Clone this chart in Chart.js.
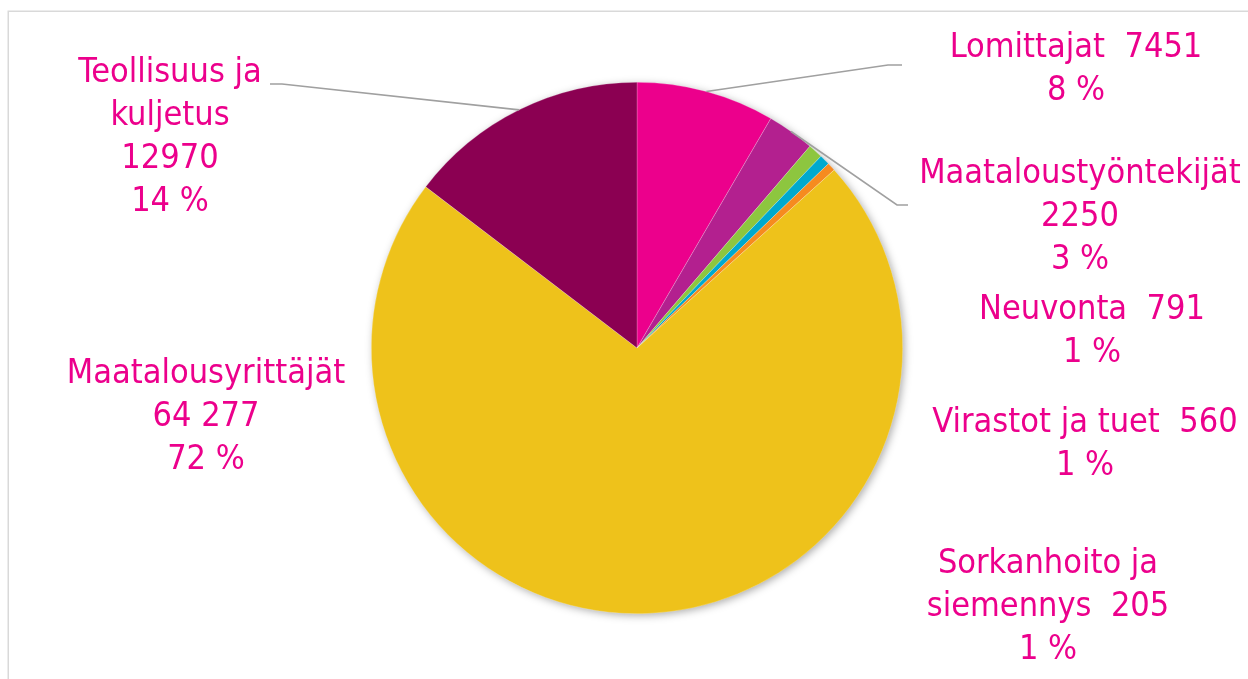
<!DOCTYPE html>
<html>
<head>
<meta charset="utf-8">
<script src="https://cdn.jsdelivr.net/npm/chart.js@4/dist/chart.umd.min.js"></script>
<style>
  html, body { margin: 0; padding: 0; background: #ffffff; }
  #wrap { width: 1248px; height: 679px; position: relative; }
</style>
</head>
<body>
<div id="wrap"><canvas id="c" width="1248" height="679"></canvas></div>
<script>
// ---- data ----
const categories = ["Lomittajat", "Maataloustyöntekijät", "Neuvonta", "Virastot ja tuet", "Sorkanhoito ja siemennys", "Maatalousyrittäjät", "Teollisuus ja kuljetus"];
// slice sizes as drawn in the picture
const values = [7451, 2550, 791, 560, 450, 63900, 12970];
// value and percent texts as printed in the labels
const valueLabels = ["7451", "2250", "791", "560", "205", "64 277", "12970"];
const percentLabels = ["8 %", "3 %", "1 %", "1 %", "1 %", "72 %", "14 %"];
const colors = ["#EC008C", "#B3208F", "#8DC63F", "#00A9CE", "#F68B1F", "#EEC21B", "#8B0052"];

// ---- label layout (text lines per slice, centre x, first baseline y, optional leader elbow) ----
const labelLayout = [
  { lines: ["Lomittajat  " + valueLabels[0], percentLabels[0]], x: 1076, y: 57, elbow: [888, 65], end: [902, 65] },
  { lines: ["Maataloustyöntekijät", valueLabels[1], percentLabels[1]], x: 1080, y: 183, elbow: [897, 205], end: [908, 205] },
  { lines: ["Neuvonta  " + valueLabels[2], percentLabels[2]], x: 1092, y: 319 },
  { lines: ["Virastot ja tuet  " + valueLabels[3], percentLabels[3]], x: 1085, y: 432 },
  { lines: ["Sorkanhoito ja", "siemennys  " + valueLabels[4], percentLabels[4]], x: 1048, y: 573 },
  { lines: ["Maatalousyrittäjät", valueLabels[5], percentLabels[5]], x: 206, y: 383 },
  { lines: ["Teollisuus ja", "kuljetus", valueLabels[6], percentLabels[6]], x: 170, y: 82, elbow: [282, 84], end: [270, 84] }
];

const FONT = '34px "DejaVu Sans Condensed", "DejaVu Sans", sans-serif';
const LINE_H = 43;

const framePlugin = {
  id: 'frame',
  beforeDraw(chart) {
    const ctx = chart.ctx;
    ctx.save();
    ctx.fillStyle = '#ffffff';
    ctx.fillRect(0, 0, chart.width, chart.height);
    ctx.strokeStyle = '#D9D9D9';
    ctx.lineWidth = 1.5;
    ctx.strokeRect(8.25, 11.25, 1400, 1000);
    ctx.restore();
  }
};

const shadowPlugin = {
  id: 'pieShadow',
  beforeDatasetsDraw(chart) {
    const arc = chart.getDatasetMeta(0).data[0];
    if (!arc) return;
    const p = arc.getProps(['x', 'y', 'outerRadius'], true);
    const ctx = chart.ctx;
    ctx.save();
    ctx.shadowColor = 'rgba(0,0,0,0.35)';
    ctx.shadowBlur = 9;
    ctx.shadowOffsetX = 2;
    ctx.shadowOffsetY = 2;
    ctx.fillStyle = '#ffffff';
    ctx.beginPath();
    ctx.arc(p.x, p.y, p.outerRadius - 0.5, 0, Math.PI * 2);
    ctx.fill();
    ctx.restore();
  }
};

const labelPlugin = {
  id: 'sliceLabels',
  afterDatasetsDraw(chart) {
    const ctx = chart.ctx;
    const meta = chart.getDatasetMeta(0);
    ctx.save();
    // leader lines
    ctx.strokeStyle = '#A0A0A0';
    ctx.lineWidth = 1.6;
    meta.data.forEach((arc, i) => {
      const L = labelLayout[i];
      if (!L || !L.elbow) return;
      const p = arc.getProps(['x', 'y', 'startAngle', 'endAngle', 'outerRadius'], true);
      const mid = (p.startAngle + p.endAngle) / 2;
      const sx = p.x + Math.cos(mid) * p.outerRadius;
      const sy = p.y + Math.sin(mid) * p.outerRadius;
      ctx.beginPath();
      ctx.moveTo(sx, sy);
      ctx.lineTo(L.elbow[0], L.elbow[1]);
      ctx.lineTo(L.end[0], L.end[1]);
      ctx.stroke();
    });
    // text
    ctx.fillStyle = '#EC008C';
    ctx.font = FONT;
    ctx.textAlign = 'center';
    ctx.textBaseline = 'alphabetic';
    labelLayout.forEach((L) => {
      L.lines.forEach((t, k) => ctx.fillText(t, L.x, L.y + k * LINE_H));
    });
    ctx.restore();
  }
};

new Chart(document.getElementById('c'), {
  type: 'pie',
  data: {
    labels: categories,
    datasets: [{
      data: values,
      backgroundColor: colors,
      borderColor: 'rgba(255,255,255,0.35)',
      borderWidth: 0.6
    }]
  },
  options: {
    responsive: false,
    animation: false,
    layout: { padding: { left: 371, right: 345, top: 82, bottom: 65 } },
    plugins: {
      legend: { display: false },
      tooltip: { enabled: false }
    }
  },
  plugins: [framePlugin, shadowPlugin, labelPlugin]
});
</script>
</body>
</html>
